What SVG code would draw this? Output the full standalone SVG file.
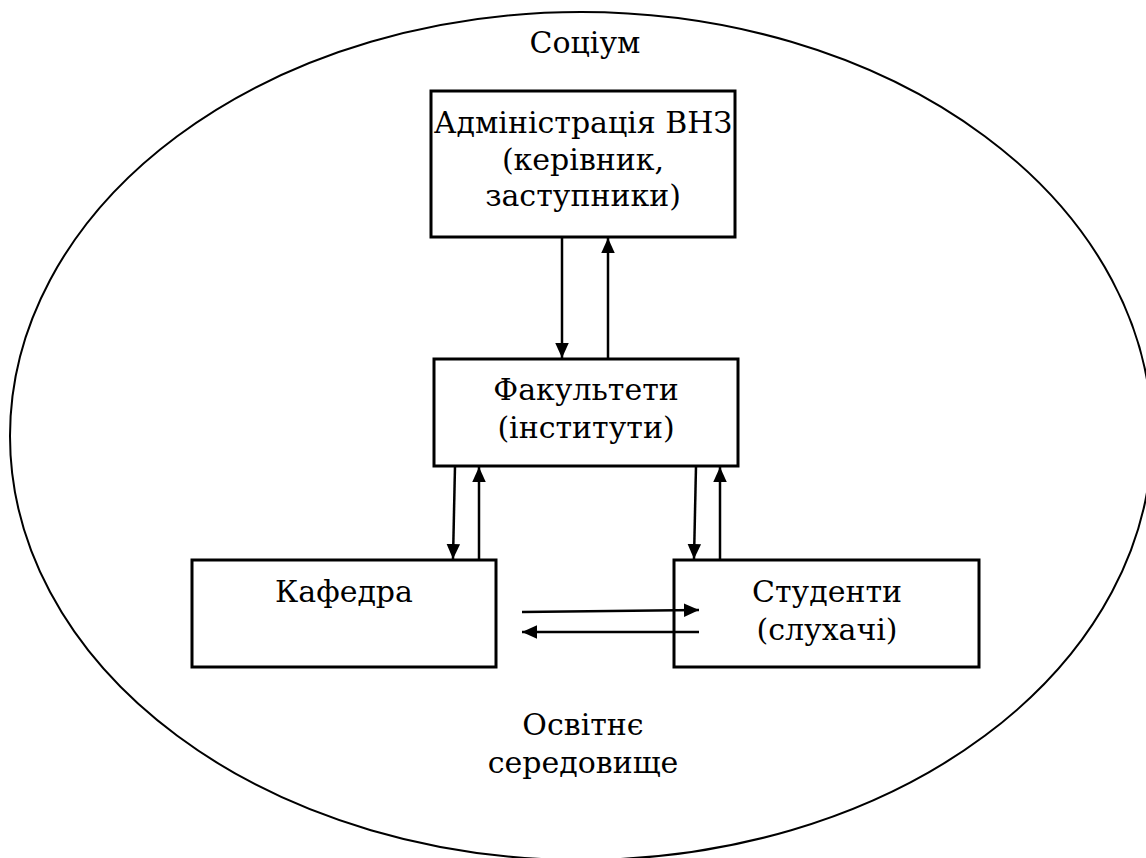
<svg xmlns="http://www.w3.org/2000/svg" width="1146" height="858" viewBox="0 0 1146 858">
  <style>
    .frame { fill: none; stroke: #000; stroke-width: 2; }
    .box { fill: #fff; stroke: #000; stroke-width: 3; }
    .label { font-family: "DejaVu Serif", "Liberation Serif", serif; font-size: 30px; fill: #000; text-anchor: middle; }
    .link { fill: none; stroke: #000; stroke-width: 2.5; }
  </style>
  <defs>
    <marker id="arrow" viewBox="0 0 10 10" refX="10" refY="5" markerWidth="6" markerHeight="6" markerUnits="strokeWidth" orient="auto">
      <path d="M0,0.5 L10,5 L0,9.5 Z" fill="#000"/>
    </marker>
  </defs>
  <rect width="1146" height="858" fill="#fff"/>

  <!-- surrounding society ellipse -->
  <g id="society">
    <ellipse class="frame" cx="581" cy="436" rx="571" ry="424"/>
    <text class="label" x="585" y="53">Соціум</text>
    <text class="label" x="583" y="735">Освітнє</text>
    <text class="label" x="583" y="773">середовище</text>
  </g>

  <g id="admin">
    <rect class="box" x="431" y="91" width="304" height="146"/>
    <text class="label" x="583" y="133">Адміністрація ВНЗ</text>
    <text class="label" x="583" y="170">(керівник,</text>
    <text class="label" x="583" y="206">заступники)</text>
  </g>

  <g id="faculty">
    <rect class="box" x="434" y="359" width="304" height="107"/>
    <text class="label" x="586" y="400">Факультети</text>
    <text class="label" x="586" y="438">(інститути)</text>
  </g>

  <g id="department">
    <rect class="box" x="192" y="560" width="304" height="107"/>
    <text class="label" x="344" y="602">Кафедра</text>
  </g>

  <g id="students">
    <rect class="box" x="674" y="560" width="305" height="107"/>
    <text class="label" x="827" y="602">Студенти</text>
    <text class="label" x="827" y="640">(слухачі)</text>
  </g>

  <g id="connectors">
    <line class="link" x1="562" y1="237" x2="562" y2="358" marker-end="url(#arrow)"/>
    <line class="link" x1="608" y1="359" x2="608" y2="238" marker-end="url(#arrow)"/>
    <line class="link" x1="455" y1="466" x2="453" y2="559" marker-end="url(#arrow)"/>
    <line class="link" x1="479" y1="560" x2="479" y2="467" marker-end="url(#arrow)"/>
    <line class="link" x1="696" y1="466" x2="694" y2="559" marker-end="url(#arrow)"/>
    <line class="link" x1="720" y1="560" x2="720" y2="467" marker-end="url(#arrow)"/>
    <line class="link" x1="522" y1="612" x2="699" y2="610" marker-end="url(#arrow)"/>
    <line class="link" x1="699" y1="632" x2="522" y2="632" marker-end="url(#arrow)"/>
  </g>
</svg>
